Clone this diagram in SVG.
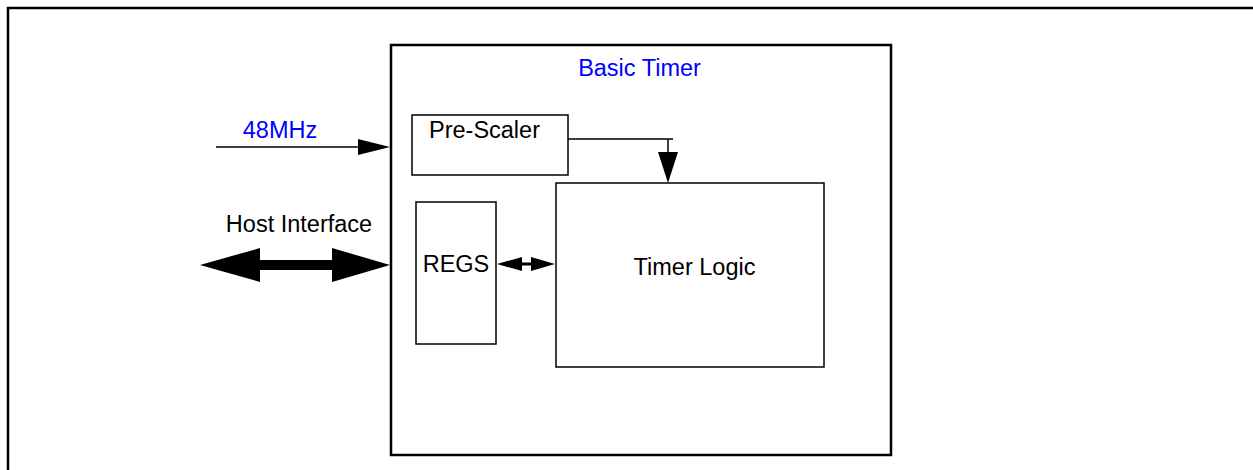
<svg xmlns="http://www.w3.org/2000/svg" width="1253" height="470" viewBox="0 0 1253 470">
<style>
.box{fill:#fff;stroke:#000;stroke-width:1.5}
.main{fill:#fff;stroke:#000;stroke-width:2.5}
.t{font-family:"Liberation Sans",Arial,sans-serif;font-size:23.5px;fill:#000}
.blue{fill:#0000ff}
.ln{stroke:#000;stroke-width:1.5;fill:none}
</style>
<rect width="1253" height="470" fill="#fff"/>
<g id="frame"><path d="M8,470 V8 H1253" fill="none" stroke="#000" stroke-width="2.5"/></g>
<g id="basic-timer">
<rect class="main" x="391" y="45" width="500" height="410"/>
<text class="t blue" x="639.5" y="76" text-anchor="middle">Basic Timer</text>
</g>
<g id="pre-scaler">
<rect class="box" x="412" y="115" width="156" height="60"/>
<text class="t" x="484.5" y="138" text-anchor="middle">Pre-Scaler</text>
</g>
<g id="timer-logic">
<rect class="box" x="556" y="183" width="268" height="184"/>
<text class="t" x="694.5" y="275" text-anchor="middle">Timer Logic</text>
</g>
<g id="regs">
<rect class="box" x="416" y="202" width="80" height="142"/>
<text class="t" x="456" y="272" text-anchor="middle">REGS</text>
</g>
<g id="input-48mhz">
<text class="t blue" x="280" y="138" text-anchor="middle">48MHz</text>
</g>
<g id="host-interface">
<text class="t" x="299" y="232" text-anchor="middle">Host Interface</text>
</g>
<g id="connectors">
<path class="ln" d="M568,139 H673 M668,139 V152"/>
<polygon points="658,152 678,152 668,183"/>
<path class="ln" d="M216,147 H360"/>
<polygon points="358,139 390,147 358,155"/>
<rect x="258" y="260" width="76" height="10"/>
<polygon points="200,265 260,248 260,282"/>
<polygon points="390,265 332,248 332,282"/>
<path d="M518,264 H535" stroke="#000" stroke-width="3"/>
<polygon points="497,264 522,257 522,271"/>
<polygon points="555,264 531,257 531,271"/>
</g>
</svg>
